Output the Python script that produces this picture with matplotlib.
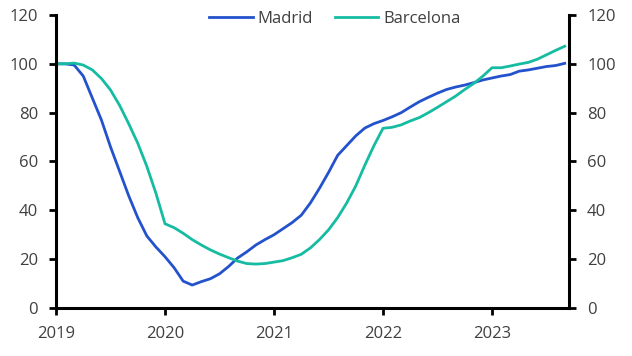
import numpy as np
import matplotlib.pyplot as plt

plt.rcParams['font.family'] = ['Open Sans', 'DejaVu Sans']

# Monthly index, Jan 2019 = 100
madrid = [100, 100, 99.5, 95, 86, 77, 66, 56, 46, 37, 29.5, 25,
          21, 16.5, 11, 9.4, 10.8, 12, 14, 17, 20.5, 23, 25.8, 28,
          30, 32.5, 35, 38, 43, 49, 55.5, 62.5, 66.5, 70.5, 73.7, 75.5,
          76.8, 78.3, 80, 82.3, 84.5, 86.3, 88, 89.5, 90.5, 91.3, 92.3, 93.4,
          94.2, 95, 95.6, 97, 97.5, 98.2, 98.9, 99.3, 100.2]
barcelona = [100, 100, 100.3, 99.5, 97.5, 94, 89.3, 83, 75.5, 67.5, 58, 47,
             34.5, 32.9, 30.6, 28, 25.8, 23.8, 22.1, 20.6, 19.2, 18.2, 18, 18.2,
             18.8, 19.4, 20.6, 22, 24.6, 28, 32, 37, 43, 50, 58.5, 66.5,
             73.6, 74, 75, 76.6, 78, 80, 82.2, 84.5, 86.8, 89.5, 92, 95,
             98.4, 98.4, 99.1, 99.9, 100.6, 101.9, 103.7, 105.5, 107.2]
years = [2019, 2020, 2021, 2022, 2023]

x = 2019 + np.arange(len(madrid)) / 12

fig = plt.figure(figsize=(6.32, 3.56), dpi=100)
ax = fig.add_axes([0.0886, 0.1348, 0.8117, 0.8231])

ax.plot(x, madrid, color='#2352cc', lw=2.0, label='Madrid')
ax.plot(x, barcelona, color='#16bca2', lw=2.0, label='Barcelona')

ax.set_xlim(2019, 2023.706)
ax.set_ylim(0, 120)
ax.set_xticks(years)
ax.set_xticklabels([str(y) for y in years])
ax.set_yticks(range(0, 121, 20))

ax2 = ax.twinx()
ax2.set_ylim(0, 120)
ax2.set_yticks(range(0, 121, 20))

for a in (ax, ax2):
    a.spines['top'].set_visible(False)
    for s in ('left', 'right', 'bottom'):
        a.spines[s].set_linewidth(2.2)
        a.spines[s].set_color('black')
    a.tick_params(axis='both', length=5, width=2, color='black',
                  labelsize=12, labelcolor='#404040', pad=8)
ax2.spines['left'].set_visible(False)
ax2.spines['bottom'].set_visible(False)
ax.spines['right'].set_visible(False)

fig.legend(loc='center', bbox_to_anchor=(0.53, 0.948), ncol=2, frameon=False,
           fontsize=12, handlelength=2.6, handletextpad=0.3, columnspacing=1.3,
           labelcolor='#404040')

fig.savefig('out.png', dpi=100)
